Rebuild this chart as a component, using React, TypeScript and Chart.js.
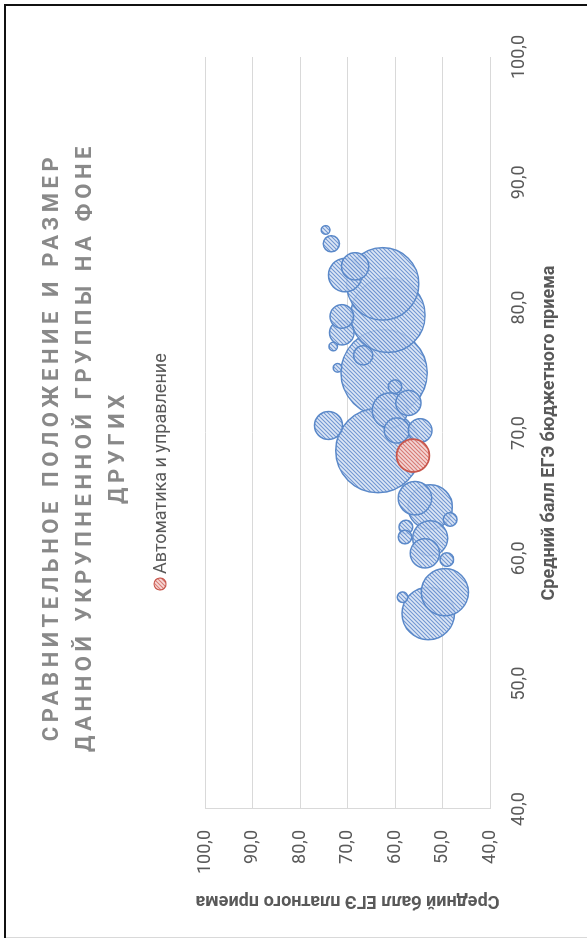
import React, { useEffect, useRef } from 'react';
import { Chart, registerables } from 'chart.js';

Chart.register(...registerables);

// ---- data (x = budget admission mean score, y = paid admission mean score, size = group size) ----
const otherBudget = [74.8, 68.6, 79.4, 81.9, 55.6, 57.3, 64.1, 71.8, 61.6, 82.6, 64.8, 60.4, 70.6, 83.3, 72.4, 70.2, 78.0, 79.3, 70.2, 76.2, 85.1, 73.7, 63.1, 62.5, 61.7, 59.9, 56.9, 86.2, 76.9, 75.2];
const otherPaid = [62.3, 63.6, 61.5, 62.6, 53.0, 49.5, 52.6, 61.1, 52.6, 70.5, 55.8, 53.7, 74.0, 68.4, 57.2, 59.6, 71.2, 71.2, 54.7, 66.7, 73.4, 60.0, 48.4, 57.7, 57.9, 49.1, 58.4, 74.6, 73.0, 72.1];
const otherSize = [200, 191, 149, 141, 74, 60, 53, 33, 33, 30, 30, 23, 21, 20, 17, 17, 16, 15, 15, 10, 7, 5, 5, 5, 5, 5, 3, 2, 2, 2];

const focusLabel = 'Автоматика и управление';
const focusBudget = [68.2];
const focusPaid = [56.2];
const focusSize = [29];

const titleLines = [
  'СРАВНИТЕЛЬНОЕ ПОЛОЖЕНИЕ И РАЗМЕР',
  'ДАННОЙ УКРУПНЕННОЙ ГРУППЫ НА ФОНЕ',
  'ДРУГИХ',
];
const xAxisTitle = 'Средний балл ЕГЭ бюджетного приема';
const yAxisTitle = 'Средний балл ЕГЭ платного приема';
const tickValues = [40, 50, 60, 70, 80, 90, 100];

const FONT = 'Roboto';
const BUBBLE_K = 3.05;

function makePattern(bg: string, stripe: string): CanvasPattern | string {
  const n = 4;
  const c = document.createElement('canvas');
  c.width = n;
  c.height = n;
  const g = c.getContext('2d');
  if (!g) return bg;
  g.fillStyle = bg;
  g.fillRect(0, 0, n, n);
  g.strokeStyle = stripe;
  g.lineWidth = 1.1;
  g.beginPath();
  g.moveTo(-1, n + 1);
  g.lineTo(n + 1, -1);
  g.moveTo(-1, 1);
  g.lineTo(1, -1);
  g.moveTo(n - 1, n + 1);
  g.lineTo(n + 1, n - 1);
  g.stroke();
  return g.createPattern(c, 'repeat') || bg;
}

const fmt = (v: number) => Number(v).toFixed(1).replace('.', ',');

export default function App() {
  const ref = useRef<HTMLCanvasElement | null>(null);

  useEffect(() => {
    if (!ref.current) return;
    const bluePattern = makePattern('rgba(214,226,244,0.82)', 'rgba(86,130,200,0.8)');
    const redPattern = makePattern('rgba(246,214,211,0.92)', 'rgba(210,100,92,0.8)');
    const blueBorder = '#5b89c9';
    const redBorder = '#c8574d';

    const otherData = otherBudget.map((b, i) => ({ x: b, y: otherPaid[i], r: BUBBLE_K * Math.sqrt(otherSize[i]) }));
    const focusData = focusBudget.map((b, i) => ({ x: b, y: focusPaid[i], r: BUBBLE_K * Math.sqrt(focusSize[i]) }));

    const overlay = {
      id: 'overlay',
      afterDraw(chart: any) {
        const ctx: CanvasRenderingContext2D = chart.ctx;
        ctx.save();
        ctx.fillStyle = '#898989';
        ctx.font = `bold 22px ${FONT}`;
        (ctx as any).letterSpacing = '4.6px';
        ctx.textAlign = 'center';
        ctx.textBaseline = 'middle';
        titleLines.forEach((t, i) => ctx.fillText(t, 494, 52 + i * 33));
        ctx.restore();

        // legend (focus series only)
        const ds = chart.data.datasets.find((d: any) => d.label === focusLabel);
        ctx.save();
        const mx = 357;
        const my = 160;
        ctx.beginPath();
        ctx.arc(mx, my, 6, 0, Math.PI * 2);
        ctx.fillStyle = ds.backgroundColor;
        ctx.fill();
        ctx.lineWidth = 1.2;
        ctx.strokeStyle = ds.borderColor;
        ctx.stroke();
        ctx.fillStyle = '#595959';
        ctx.font = `18px ${FONT}`;
        ctx.textAlign = 'left';
        ctx.textBaseline = 'middle';
        ctx.fillText(ds.label, mx + 10, my + 1);
        ctx.restore();
      },
    };

    const chart = new Chart(ref.current, {
      type: 'bubble',
      data: {
        datasets: [
          {
            label: focusLabel,
            data: focusData,
            backgroundColor: redPattern as any,
            borderColor: redBorder,
            borderWidth: 1.8,
            order: 0,
          },
          {
            label: 'Другие группы',
            data: otherData,
            backgroundColor: bluePattern as any,
            borderColor: blueBorder,
            borderWidth: 1.5,
            order: 1,
          },
        ],
      },
      options: {
        responsive: false,
        animation: false,
        events: [],
        layout: { padding: { left: 30, right: 57, top: 205, bottom: 22 } },
        plugins: {
          legend: { display: false },
          title: { display: false },
          tooltip: { enabled: false },
        },
        scales: {
          x: {
            type: 'linear',
            position: 'bottom',
            min: 40,
            max: 100,
            afterBuildTicks: (s: any) => {
              s.ticks = tickValues.map((v) => ({ value: v }));
            },
            afterFit: (s: any) => {
              s.height = 75;
            },
            grid: { display: false, drawTicks: false },
            border: { display: false },
            ticks: {
              autoSkip: false,
              maxRotation: 0,
              padding: 19,
              color: '#595959',
              font: { family: FONT, size: 18 },
              callback: (v: any) => fmt(v),
            },
            title: {
              display: true,
              text: xAxisTitle,
              color: '#595959',
              font: { family: FONT, size: 18, weight: 'bold' },
              padding: { top: 0, bottom: 5 },
            },
          },
          y: {
            type: 'linear',
            position: 'left',
            min: 40,
            max: 100,
            afterBuildTicks: (s: any) => {
              s.ticks = tickValues.map((v) => ({ value: v }));
            },
            afterFit: (s: any) => {
              s.width = 102;
            },
            grid: { color: '#d9d9d9', lineWidth: 1, drawTicks: false },
            border: { display: true, color: '#d9d9d9', width: 1 },
            ticks: {
              autoSkip: false,
              padding: 21,
              color: '#595959',
              font: { family: FONT, size: 18 },
              callback: (v: any) => fmt(v),
            },
            title: {
              display: true,
              text: yAxisTitle,
              color: '#595959',
              font: { family: FONT, size: 18, weight: 'bold' },
              padding: { top: 0, bottom: 0 },
            },
          },
        },
      } as any,
      plugins: [overlay],
    });
    return () => chart.destroy();
  }, []);

  return (
    <div style={{ position: 'absolute', left: 0, top: 0, width: 587, height: 941, background: '#fff', overflow: 'hidden' }}>
      <div
        style={{
          position: 'absolute',
          left: 0,
          top: 0,
          width: 941,
          height: 587,
          transformOrigin: '0 0',
          transform: 'translateY(941px) rotate(-90deg)',
        }}
      >
        <canvas ref={ref} width={941} height={587} style={{ display: 'block' }} />
      </div>
      <div style={{ position: 'absolute', left: 4, top: 4, width: 583, height: 2, background: '#111' }} />
      <div style={{ position: 'absolute', left: 4, top: 4, width: 2, height: 934, background: '#111' }} />
      <div style={{ position: 'absolute', left: 6, top: 937, width: 581, height: 1, background: '#d9d9d9' }} />
    </div>
  );
}
